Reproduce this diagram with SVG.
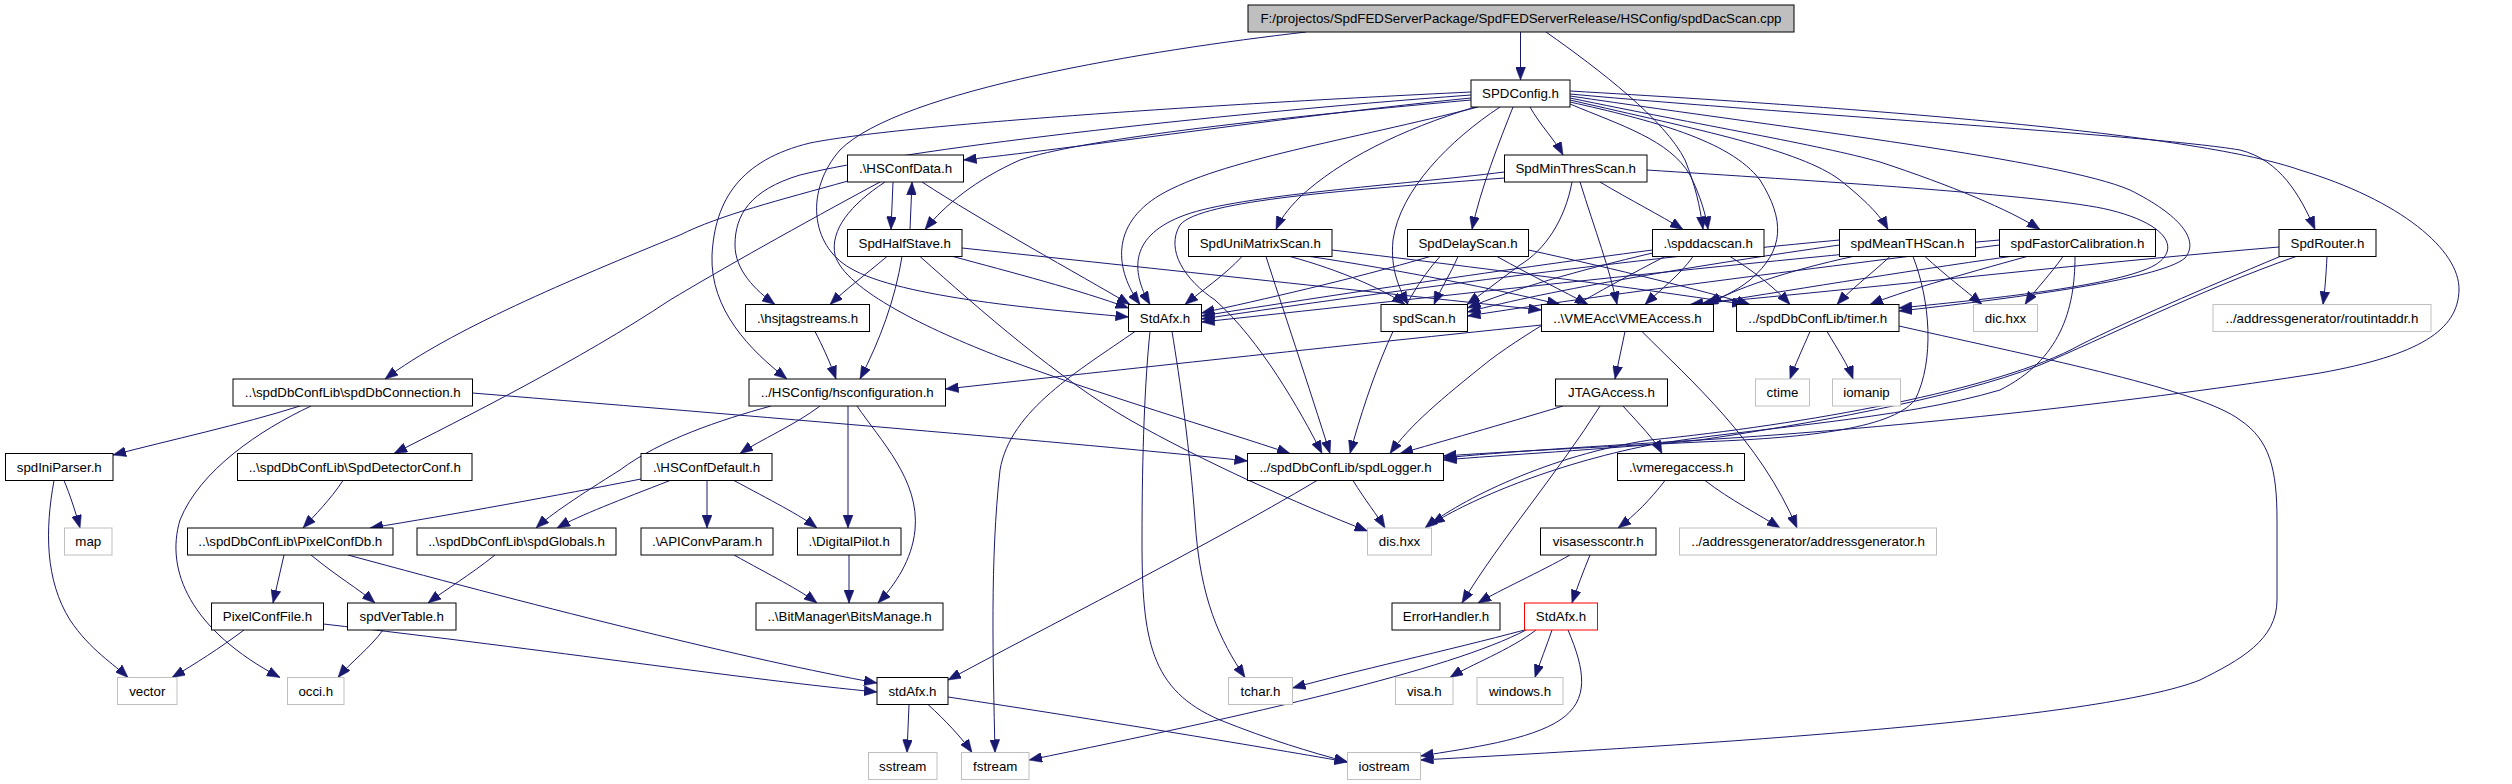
<svg xmlns="http://www.w3.org/2000/svg" width="2512" height="784" viewBox="0 0 2512 784">
<style>
.n rect{fill:#fff;stroke:#000;stroke-width:1}
.g rect{fill:#fff;stroke:#bfbfbf;stroke-width:1}
.r rect{fill:#bfbfbf;stroke:#000;stroke-width:1}
.red rect{fill:#fff;stroke:#ff0000;stroke-width:1}
text{font-family:"Liberation Sans",Arial,sans-serif;font-size:13.3px;fill:#000;text-anchor:middle}
#edges path{fill:none;stroke:#191970;stroke-width:1;marker-end:url(#a)}
</style>
<defs>
<marker id="a" markerWidth="13" markerHeight="10" refX="13" refY="5" orient="auto" markerUnits="userSpaceOnUse"><path d="M0,0 L13,5 L0,10 z" fill="#191970" stroke="#191970" stroke-width="0.5"/></marker>
</defs>
<rect width="2512" height="784" fill="#fff"/>
<g id="edges">
<path d="M1520.5,32 L1520.5,80"/>
<path d="M1546,32 C1600,70 1665,120 1685,160 C1695,185 1700,205 1703,229.5"/>
<path d="M1306,32 C1150,50 900,90 840,150 C805,190 810,245 850,268 C900,298 1050,310 1128.5,317"/>
<path d="M1471,98 C1300,115 1100,145 963.5,160"/>
<path d="M1471,100 C1250,120 1080,140 1020,160 C975,180 945,205 925,229.5"/>
<path d="M1471,92 C1200,105 900,125 810,143 C740,160 715,200 712,255 C710,310 750,350 787,379"/>
<path d="M1471,95 C1200,115 900,150 800,175 C750,190 735,215 735,245 C735,270 755,290 775,304.5"/>
<path d="M1478,107 C1350,140 1220,160 1160,195 C1110,225 1115,270 1140,304.5"/>
<path d="M1475,107 C1400,130 1340,160 1300,197 C1287,210 1280,220 1276,229.5"/>
<path d="M1500,107 C1450,140 1400,190 1393,240 C1390,270 1400,290 1408,304.5"/>
<path d="M1513,107 C1500,140 1480,190 1472,229.5"/>
<path d="M1530,107 C1540,125 1555,140 1563,155"/>
<path d="M1570,104 C1620,125 1670,140 1690,175 C1700,195 1706,215 1708,229.5"/>
<path d="M1570,100 C1700,130 1800,150 1840,180 C1865,200 1880,215 1888,229.5"/>
<path d="M1570,98 C1700,125 1820,145 1880,162 C1950,185 2010,210 2040,229.5"/>
<path d="M1570,94 C1800,115 2150,135 2240,150 C2280,160 2300,195 2315,229.5"/>
<path d="M1570,96 C1800,130 2060,160 2130,190 C2180,215 2200,240 2185,258 C2160,280 2000,300 1899,311"/>
<path d="M1570,102 C1650,120 1730,140 1760,180 C1785,220 1785,250 1750,280 C1735,292 1720,298 1705,304.5"/>
<path d="M1570,91 C1900,110 2200,135 2300,170 C2400,200 2460,250 2459,290 C2458,330 2420,355 2320,373 C2150,400 1900,428 1700,440 C1600,446 1500,452 1443.5,458"/>
<path d="M893,182 L891,229.5"/>
<path d="M910,229.5 L912,182"/>
<path d="M922,182 C980,220 1080,275 1130,304.5"/>
<path d="M848,181 C780,200 720,215 680,235 C570,280 450,330 385,379"/>
<path d="M880,182 C800,225 720,270 670,300 C580,360 460,420 394,453.5"/>
<path d="M885,182 C850,205 830,230 835,255 C845,290 930,330 1000,357 C1100,395 1220,430 1290,453.5"/>
<path d="M953,256.5 C1010,272 1080,290 1128.5,308"/>
<path d="M962,248 C1150,268 1400,295 1541.5,310"/>
<path d="M887,256.5 C865,275 845,290 830,304.5"/>
<path d="M902,256.5 C895,300 880,340 860,379"/>
<path d="M920,256.5 C980,310 1060,380 1130,420 C1200,460 1300,505 1367.5,531"/>
<path d="M815,331.5 C822,345 830,362 836,379"/>
<path d="M1135,331.5 C1080,370 1010,410 1000,470 C990,560 993,660 995,752.5"/>
<path d="M1150,331.5 C1145,380 1142,450 1142,540 C1142,640 1150,690 1220,720 C1270,740 1310,752 1347.5,762"/>
<path d="M1172,331.5 C1180,380 1190,450 1195,520 C1200,600 1220,640 1245,677.5"/>
<path d="M1541.5,325 C1300,350 1100,372 945.5,389"/>
<path d="M1625,331.5 L1615,379"/>
<path d="M1642,331.5 C1690,380 1760,440 1797,528"/>
<path d="M1705,480.5 C1730,500 1760,515 1780,528"/>
<path d="M1563,406 C1500,425 1440,442 1400,453.5"/>
<path d="M1623,406 C1640,425 1655,440 1662,453.5"/>
<path d="M1600,406 C1560,470 1500,540 1462,603"/>
<path d="M1665,480.5 C1650,500 1635,515 1618,528"/>
<path d="M1570,555 C1540,572 1500,590 1478,603"/>
<path d="M1590,555 C1583,572 1577,588 1572,603"/>
<path d="M1524.5,630 C1450,650 1350,672 1292.5,688"/>
<path d="M1526,630 C1450,670 1250,715 1029,760"/>
<path d="M1536,630 C1510,650 1470,665 1450,677.5"/>
<path d="M1552,630 C1547,645 1540,662 1535,677.5"/>
<path d="M1568,630 C1585,670 1590,700 1560,720 C1530,740 1470,748 1420.5,756"/>
<path d="M1353,480.5 C1365,500 1377,515 1385,528"/>
<path d="M1317,480.5 C1200,550 1040,630 948,680"/>
<path d="M300,406 C240,425 170,440 113,455"/>
<path d="M311,406 C260,430 200,470 180,520 C165,570 190,630 280,677.5"/>
<path d="M472.5,393 C800,420 1100,445 1247.5,461"/>
<path d="M343,480.5 C330,500 315,515 303,528"/>
<path d="M820,406 C795,425 760,440 740,453.5"/>
<path d="M771,406 C720,420 660,440 620,470 C580,495 550,515 536,528"/>
<path d="M848,406 L848,528"/>
<path d="M857,406 C880,440 920,480 915,530 C912,560 895,585 878,603"/>
<path d="M641,479 C560,495 450,515 370,528"/>
<path d="M670,480.5 C620,500 580,515 557,528"/>
<path d="M707,480.5 L707,528"/>
<path d="M734,480.5 C770,500 800,515 817,528"/>
<path d="M64,480.5 C70,495 75,510 80,528"/>
<path d="M54,480.5 C45,530 45,580 70,620 C90,650 115,665 128,677.5"/>
<path d="M284,555 L273,603"/>
<path d="M311,555 C335,575 360,590 375,603"/>
<path d="M348,555 C550,610 750,660 877,683"/>
<path d="M495,555 C470,575 445,590 428,603"/>
<path d="M734,555 C770,575 800,590 817,603"/>
<path d="M849,555 L849,603"/>
<path d="M244,630 C220,648 195,664 172,677.5"/>
<path d="M323.5,624 C550,650 750,680 877,692"/>
<path d="M383,630 C370,648 350,663 338,677.5"/>
<path d="M909,704.5 L907,752.5"/>
<path d="M928,704.5 C945,720 962,738 972,752.5"/>
<path d="M948,697 C1100,720 1250,745 1347.5,762"/>
<path d="M1810,331.5 C1802,350 1795,365 1790,379"/>
<path d="M1827,331.5 C1838,350 1848,365 1853,379"/>
<path d="M1899,326 C2050,360 2200,390 2240,420 C2270,440 2277,470 2277,520 L2277,600 C2277,640 2240,660 2200,680 C2100,720 1700,745 1420.5,760"/>
<path d="M1242,256.5 C1225,275 1200,292 1185,304.5"/>
<path d="M1290,256.5 C1340,270 1385,290 1405,304.5"/>
<path d="M1310,256.5 C1400,270 1500,290 1560,304.5"/>
<path d="M1332,250 C1500,270 1650,290 1745,304.5"/>
<path d="M1266,256.5 C1280,300 1310,390 1330,453.5"/>
<path d="M1430,256.5 C1350,280 1260,300 1201.5,313"/>
<path d="M1458,256.5 C1450,275 1440,290 1434,304.5"/>
<path d="M1497,256.5 C1530,275 1565,292 1588,304.5"/>
<path d="M1528.5,250 C1620,270 1700,290 1750,304.5"/>
<path d="M1440,256.5 C1400,300 1370,380 1350,453.5"/>
<path d="M1504.5,172 C1400,185 1240,195 1185,215 C1130,235 1130,270 1150,304.5"/>
<path d="M1504.5,178 C1350,190 1200,200 1180,225 C1165,250 1185,280 1215,300 C1260,340 1300,410 1322,453.5"/>
<path d="M1600,182 C1630,200 1660,215 1683,229.5"/>
<path d="M1580,182 C1595,230 1610,270 1617,304.5"/>
<path d="M1572,182 C1565,220 1545,250 1520,265 C1500,280 1480,295 1467,304.5"/>
<path d="M1647,170 C1800,180 2050,195 2110,210 C2170,225 2180,250 2155,265 C2120,285 2000,298 1899,308"/>
<path d="M1652.5,250 C1500,270 1300,300 1201.5,316"/>
<path d="M1652.5,253 C1580,270 1510,290 1467.5,308"/>
<path d="M1693,256.5 C1680,275 1660,290 1645,304.5"/>
<path d="M1730,256.5 C1755,272 1775,288 1790,304.5"/>
<path d="M1665,256.5 C1600,290 1530,330 1490,360 C1440,400 1410,425 1390,453.5"/>
<path d="M1839.5,240 C1600,262 1350,297 1201.5,319"/>
<path d="M1839.5,245 C1700,265 1550,290 1467.5,312"/>
<path d="M1853,256.5 C1790,270 1730,290 1709,304.5"/>
<path d="M1890,256.5 C1870,275 1850,290 1837,304.5"/>
<path d="M1925,256.5 C1945,275 1965,290 1982,304.5"/>
<path d="M1913,256.5 C1930,300 1935,360 1915,400 C1890,430 1800,438 1700,442 C1600,447 1500,452 1443.5,456"/>
<path d="M1999.5,240 C1700,266 1400,301 1201.5,322"/>
<path d="M1999.5,245 C1800,270 1600,295 1467.5,316"/>
<path d="M2010,256.5 C1900,272 1780,292 1700,304.5"/>
<path d="M2027,256.5 C1960,275 1900,292 1870,304.5"/>
<path d="M2063,256.5 C2050,275 2035,290 2025,304.5"/>
<path d="M2075,256.5 C2075,310 2060,360 2000,390 C1900,420 1750,428 1650,445 C1550,465 1470,500 1431.5,524"/>
<path d="M2327,256.5 C2326,275 2325,290 2323,304.5"/>
<path d="M2279,247 C2100,262 1900,285 1690,304.5"/>
<path d="M2296,256.5 C2200,290 2100,340 2040,365 C1950,400 1800,425 1700,440 C1600,450 1500,455 1443.5,460"/>
<path d="M2280,256.5 C2200,290 2130,320 2080,345 C2000,390 1800,425 1650,440 C1550,455 1460,500 1425,528"/>
</g>
<g id="root" class="r"><rect x="1248" y="5" width="546" height="27"/><text x="1521" y="23.3">F:/projectos/SpdFEDServerPackage/SpdFEDServerRelease/HSConfig/spdDacScan.cpp</text></g>
<g id="SPDConfig" class="n"><rect x="1471" y="80" width="99" height="27"/><text x="1520.5" y="98.3">SPDConfig.h</text></g>
<g id="HSConfData" class="n"><rect x="847.5" y="155" width="116" height="27"/><text x="905.5" y="173.3">.\HSConfData.h</text></g>
<g id="SpdMinThresScan" class="n"><rect x="1504.5" y="155" width="142.5" height="27"/><text x="1575.75" y="173.3">SpdMinThresScan.h</text></g>
<g id="SpdHalfStave" class="n"><rect x="847.5" y="229.5" width="114.5" height="27"/><text x="904.75" y="247.8">SpdHalfStave.h</text></g>
<g id="SpdUniMatrixScan" class="n"><rect x="1188.5" y="229.5" width="143.5" height="27"/><text x="1260.25" y="247.8">SpdUniMatrixScan.h</text></g>
<g id="SpdDelayScan" class="n"><rect x="1407.5" y="229.5" width="121" height="27"/><text x="1468" y="247.8">SpdDelayScan.h</text></g>
<g id="spddacscan" class="n"><rect x="1652.5" y="229.5" width="111.5" height="27"/><text x="1708.25" y="247.8">.\spddacscan.h</text></g>
<g id="spdMeanTHScan" class="n"><rect x="1839.5" y="229.5" width="136" height="27"/><text x="1907.5" y="247.8">spdMeanTHScan.h</text></g>
<g id="spdFastorCalibration" class="n"><rect x="1999.5" y="229.5" width="156" height="27"/><text x="2077.5" y="247.8">spdFastorCalibration.h</text></g>
<g id="SpdRouter" class="n"><rect x="2279" y="229.5" width="97" height="27"/><text x="2327.5" y="247.8">SpdRouter.h</text></g>
<g id="StdAfx" class="n"><rect x="1128.5" y="304.5" width="73" height="27"/><text x="1165" y="322.8">StdAfx.h</text></g>
<g id="hsjtagstreams" class="n"><rect x="745.5" y="304.5" width="124" height="27"/><text x="807.5" y="322.8">.\hsjtagstreams.h</text></g>
<g id="spdScan" class="n"><rect x="1381" y="304.5" width="86.5" height="27"/><text x="1424.25" y="322.8">spdScan.h</text></g>
<g id="VMEAccess" class="n"><rect x="1541.5" y="304.5" width="172" height="27"/><text x="1627.5" y="322.8">..\VMEAcc\VMEAccess.h</text></g>
<g id="timer" class="n"><rect x="1736.5" y="304.5" width="162.5" height="27"/><text x="1817.75" y="322.8">../spdDbConfLib/timer.h</text></g>
<g id="dic" class="g"><rect x="1973.5" y="304.5" width="64" height="27"/><text x="2005.5" y="322.8">dic.hxx</text></g>
<g id="routintaddr" class="g"><rect x="2213" y="304.5" width="218" height="27"/><text x="2322" y="322.8">../addressgenerator/routintaddr.h</text></g>
<g id="spdDbConnection" class="n"><rect x="233" y="379" width="239.5" height="27"/><text x="352.75" y="397.3">..\spdDbConfLib\spdDbConnection.h</text></g>
<g id="hsconfiguration" class="n"><rect x="749" y="379" width="196.5" height="27"/><text x="847.25" y="397.3">../HSConfig/hsconfiguration.h</text></g>
<g id="JTAGAccess" class="n"><rect x="1555.5" y="379" width="112" height="27"/><text x="1611.5" y="397.3">JTAGAccess.h</text></g>
<g id="ctime" class="g"><rect x="1755.5" y="379" width="54" height="27"/><text x="1782.5" y="397.3">ctime</text></g>
<g id="iomanip" class="g"><rect x="1832.5" y="379" width="68" height="27"/><text x="1866.5" y="397.3">iomanip</text></g>
<g id="spdIniParser" class="n"><rect x="5.5" y="453.5" width="107.5" height="27"/><text x="59.25" y="471.8">spdIniParser.h</text></g>
<g id="SpdDetectorConf" class="n"><rect x="237.5" y="453.5" width="234.5" height="27"/><text x="354.75" y="471.8">..\spdDbConfLib\SpdDetectorConf.h</text></g>
<g id="HSConfDefault" class="n"><rect x="641" y="453.5" width="131" height="27"/><text x="706.5" y="471.8">.\HSConfDefault.h</text></g>
<g id="spdLogger" class="n"><rect x="1247.5" y="453.5" width="196" height="27"/><text x="1345.5" y="471.8">../spdDbConfLib/spdLogger.h</text></g>
<g id="vmeregaccess" class="n"><rect x="1617.5" y="453.5" width="127" height="27"/><text x="1681" y="471.8">.\vmeregaccess.h</text></g>
<g id="map" class="g"><rect x="64.5" y="528" width="47.5" height="27"/><text x="88.25" y="546.3">map</text></g>
<g id="PixelConfDb" class="n"><rect x="187.5" y="528" width="205.5" height="27"/><text x="290.25" y="546.3">..\spdDbConfLib\PixelConfDb.h</text></g>
<g id="spdGlobals" class="n"><rect x="417" y="528" width="199" height="27"/><text x="516.5" y="546.3">..\spdDbConfLib\spdGlobals.h</text></g>
<g id="APIConvParam" class="n"><rect x="641" y="528" width="132" height="27"/><text x="707" y="546.3">.\APIConvParam.h</text></g>
<g id="DigitalPilot" class="n"><rect x="797.5" y="528" width="103.5" height="27"/><text x="849.25" y="546.3">.\DigitalPilot.h</text></g>
<g id="dis" class="g"><rect x="1367.5" y="528" width="64" height="27"/><text x="1399.5" y="546.3">dis.hxx</text></g>
<g id="visasesscontr" class="n"><rect x="1540.5" y="528" width="115.5" height="27"/><text x="1598.25" y="546.3">visasesscontr.h</text></g>
<g id="addressgenerator" class="g"><rect x="1679.5" y="528" width="257" height="27"/><text x="1808" y="546.3">../addressgenerator/addressgenerator.h</text></g>
<g id="PixelConfFile" class="n"><rect x="211.5" y="603" width="112" height="27"/><text x="267.5" y="621.3">PixelConfFile.h</text></g>
<g id="spdVerTable" class="n"><rect x="347.5" y="603" width="108.5" height="27"/><text x="401.75" y="621.3">spdVerTable.h</text></g>
<g id="BitsManage" class="n"><rect x="756" y="603" width="187" height="27"/><text x="849.5" y="621.3">..\BitManager\BitsManage.h</text></g>
<g id="ErrorHandler" class="n"><rect x="1392" y="603" width="108" height="27"/><text x="1446" y="621.3">ErrorHandler.h</text></g>
<g id="StdAfx_red" class="red"><rect x="1524.5" y="603" width="73" height="27"/><text x="1561" y="621.3">StdAfx.h</text></g>
<g id="vector" class="g"><rect x="117.5" y="677.5" width="59.5" height="27"/><text x="147.25" y="695.8">vector</text></g>
<g id="occi" class="g"><rect x="287.5" y="677.5" width="56.5" height="27"/><text x="315.75" y="695.8">occi.h</text></g>
<g id="stdAfx_lower" class="n"><rect x="877" y="677.5" width="71" height="27"/><text x="912.5" y="695.8">stdAfx.h</text></g>
<g id="tchar" class="g"><rect x="1228.5" y="677.5" width="64" height="27"/><text x="1260.5" y="695.8">tchar.h</text></g>
<g id="visa" class="g"><rect x="1395.5" y="677.5" width="57.5" height="27"/><text x="1424.25" y="695.8">visa.h</text></g>
<g id="windows" class="g"><rect x="1477" y="677.5" width="86" height="27"/><text x="1520" y="695.8">windows.h</text></g>
<g id="sstream" class="g"><rect x="868.5" y="752.5" width="68.5" height="27"/><text x="902.75" y="770.8">sstream</text></g>
<g id="fstream" class="g"><rect x="961.5" y="752.5" width="67.5" height="27"/><text x="995.25" y="770.8">fstream</text></g>
<g id="iostream" class="g"><rect x="1347.5" y="752.5" width="73" height="27"/><text x="1384" y="770.8">iostream</text></g>
</svg>
